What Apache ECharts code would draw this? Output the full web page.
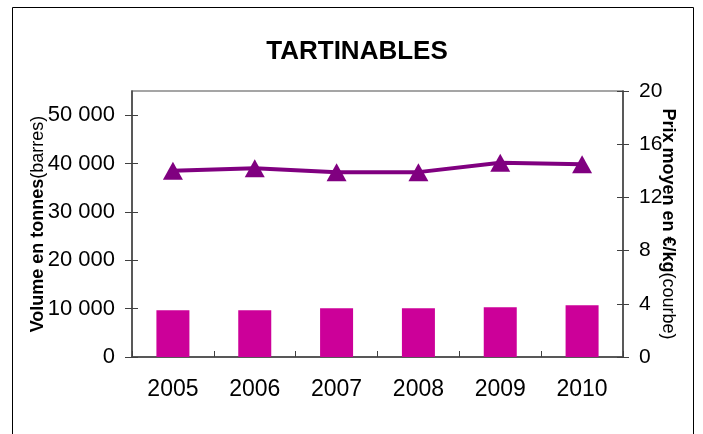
<!DOCTYPE html>
<html>
<head>
<meta charset="utf-8">
<script src="https://cdn.jsdelivr.net/npm/echarts@6/dist/echarts.min.js"></script>
<style>
  html, body { margin: 0; padding: 0; background: #fff; }
  #chart { width: 703px; height: 434px; }
</style>
</head>
<body>
<div id="chart"></div>
<script>
// data
const years = ['2005', '2006', '2007', '2008', '2009', '2010']
const volume = [9650, 9650, 10060, 10060, 10270, 10680] // tonnes (barres)
const prix = [14.0, 14.2, 13.9, 13.9, 14.6, 14.5] // euro/kg (courbe)
const volumeTicks = [0, 10000, 20000, 30000, 40000, 50000]

const font = 'Liberation Sans, Arial, sans-serif'
const axisColor = '#404040'

function spaced(v) {
  return String(v).replace(/\B(?=(\d{3})+(?!\d))/g, ' ')
}

// inner half of the ticks (excel draws them across the axis line)
const innerTick = { show: true, inside: true, length: 6, lineStyle: { color: axisColor } }

const chart = echarts.init(document.getElementById('chart'))
chart.setOption({
  animation: false,
  textStyle: { fontFamily: font, color: '#000' },
  title: {
    text: 'TARTINABLES',
    left: 352,
    textAlign: 'center',
    top: 34,
    textStyle: { fontFamily: font, fontSize: 26, fontWeight: 'bold', color: '#000' }
  },
  graphic: [{
    type: 'rect',
    shape: { x: 12.5, y: 7.5, width: 681, height: 500 },
    style: { fill: 'none', stroke: '#000', lineWidth: 1 },
    silent: true
  }],
  grid: {
    left: 132,
    right: 80,
    top: 91,
    bottom: 77,
    show: true,
    borderColor: '#888',
    borderWidth: 1.5
  },
  xAxis: [
    {
      type: 'category',
      data: years,
      boundaryGap: true,
      axisLine: { lineStyle: { color: axisColor, width: 1.5 } },
      axisTick: { length: 7, lineStyle: { color: axisColor } },
      axisLabel: { fontSize: 23, fontFamily: font, color: '#000', margin: 21 }
    },
    {
      type: 'category',
      data: years,
      position: 'bottom',
      boundaryGap: true,
      axisLine: { show: false },
      axisTick: innerTick,
      axisLabel: { show: false }
    }
  ],
  yAxis: [
    {
      type: 'value',
      min: 0,
      max: 55000,
      interval: 10000,
      name: '{b|Volume en tonnes}{n|(barres)}',
      nameLocation: 'middle',
      nameGap: 85,
      nameMoveOverlap: false,
      nameTextStyle: {
        rich: {
          b: { fontSize: 18, fontWeight: 'bold', fontFamily: font, color: '#000' },
          n: { fontSize: 18, fontFamily: font, color: '#000' }
        }
      },
      splitLine: { show: false },
      axisLine: { show: true, lineStyle: { color: axisColor, width: 1.5 } },
      axisTick: { show: true, length: 7, customValues: volumeTicks, lineStyle: { color: axisColor } },
      axisLabel: {
        fontSize: 22,
        fontFamily: font,
        color: '#000',
        margin: 17,
        customValues: volumeTicks,
        formatter: spaced
      }
    },
    {
      type: 'value',
      min: 0,
      max: 20,
      interval: 4,
      position: 'right',
      name: '{b|Prix moyen en €/kg}{n|(courbe)}',
      nameLocation: 'middle',
      nameRotate: -90,
      nameGap: 36,
      nameMoveOverlap: false,
      nameTextStyle: {
        rich: {
          b: { fontSize: 18, fontWeight: 'bold', fontFamily: font, color: '#000' },
          n: { fontSize: 18, fontFamily: font, color: '#000' }
        }
      },
      splitLine: { show: false },
      axisLine: { show: true, lineStyle: { color: axisColor, width: 1.5 } },
      axisTick: { show: true, length: 6, lineStyle: { color: axisColor } },
      axisLabel: { fontSize: 21, fontFamily: font, color: '#000', margin: 16 }
    },
    {
      type: 'value',
      min: 0,
      max: 55000,
      interval: 10000,
      position: 'left',
      splitLine: { show: false },
      axisLine: { show: false },
      axisTick: Object.assign({ customValues: volumeTicks }, innerTick),
      axisLabel: { show: false }
    },
    {
      type: 'value',
      min: 0,
      max: 20,
      interval: 4,
      position: 'right',
      splitLine: { show: false },
      axisLine: { show: false },
      axisTick: innerTick,
      axisLabel: { show: false }
    }
  ],
  series: [
    {
      name: 'Volume',
      type: 'bar',
      yAxisIndex: 0,
      data: volume,
      barWidth: 33,
      itemStyle: { color: '#CC0099' }
    },
    {
      name: 'Prix',
      type: 'line',
      yAxisIndex: 1,
      data: prix,
      symbol: 'triangle',
      symbolSize: [20, 18],
      lineStyle: { color: '#800080', width: 4 },
      itemStyle: { color: '#800080' }
    }
  ]
})
</script>
</body>
</html>
